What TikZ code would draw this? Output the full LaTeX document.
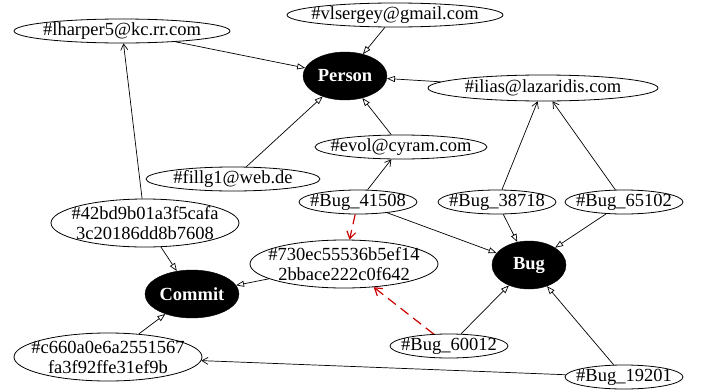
\documentclass[tikz,border=0pt]{standalone}
\usepackage{fontspec}
\setmainfont{Liberation Serif}
\usetikzlibrary{shapes.geometric,arrows.meta}
\definecolor{edgered}{RGB}{204,0,0}
\tikzset{
  txt/.style={inner sep=0pt,font=\fontsize{18.5}{20}\selectfont,align=center},
  btxt/.style={inner sep=0pt,text=white,font=\fontsize{18.5}{20}\selectfont\bfseries},
  ent/.style={ellipse,draw,line width=0.8pt,inner sep=0pt,label={[txt]center:#1}},
  cls/.style={ellipse,fill=black,draw=black,inner sep=0pt,label={[btxt]center:#1}},
  isa/.style={draw,line width=0.7pt,-{Triangle[open,length=8pt,width=6pt]}},
  rel/.style={draw,line width=0.7pt,-{Straight Barb[length=6pt,width=7pt]}},
  dep/.style={draw=edgered,line width=1.2pt,dash pattern=on 10pt off 6pt,-{Straight Barb[length=7pt,width=9pt]}}
}
\begin{document}
\begin{tikzpicture}[x=1pt,y=-1pt]
\useasboundingbox (0,0) rectangle (707,391);
\node[ent={\#vlsergey@gmail.com},minimum width=216pt,minimum height=24pt] (vl) at (395,15) {};
\node[ent={\#lharper5@kc.rr.com},minimum width=216pt,minimum height=24pt] (lh) at (122,31) {};
\node[cls={Person},minimum width=84pt,minimum height=48pt] (person) at (345,76) {};
\node[ent={\#ilias@lazaridis.com},minimum width=230pt,minimum height=26pt] (il) at (543,88) {};
\node[ent={\#evol@cyram.com},minimum width=172pt,minimum height=24pt] (ev) at (401,147) {};
\node[ent={\#fillg1@web.de},minimum width=174pt,minimum height=24pt] (fg) at (233,179) {};
\node[ent={\#Bug\_41508},minimum width=118pt,minimum height=24pt] (b41) at (358,202) {};
\node[ent={\#Bug\_38718},minimum width=118pt,minimum height=24pt] (b38) at (497,202) {};
\node[ent={\#Bug\_65102},minimum width=118pt,minimum height=24pt] (b65) at (624,202) {};
\node[ent={\#42bd9b01a3f5cafa\\3c20186dd8b7608},minimum width=188pt,minimum height=48pt] (c42) at (145,223) {};
\node[ent={\#730ec55536b5ef14\\2bbace222c0f642},minimum width=188pt,minimum height=48pt] (c73) at (344,264) {};
\node[cls={Commit},minimum width=94pt,minimum height=48pt] (commit) at (192,294) {};
\node[cls={Bug},minimum width=74pt,minimum height=48pt] (bug) at (529,265) {};
\node[ent={\#c660a0e6a2551567\\fa3f92ffe31ef9b},minimum width=188pt,minimum height=48pt] (c66) at (108,357) {};
\node[ent={\#Bug\_60012},minimum width=118pt,minimum height=24pt] (b60) at (449,346) {};
\node[ent={\#Bug\_19201},minimum width=118pt,minimum height=24pt] (b19) at (624,377) {};
% is-a edges
\path[isa] (lh) -- (person);
\path[isa] (vl) -- (person);
\path[isa] (il) -- (person);
\path[isa] (fg) -- (person);
\path[isa] (ev) -- (person);
\path[isa] (c42) -- (commit);
\path[isa] (c73) -- (commit);
\path[isa] (c66) -- (commit);
\path[isa] (b41) -- (bug);
\path[isa] (b38) -- (bug);
\path[isa] (b65) -- (bug);
\path[isa] (b60) -- (bug);
\path[isa] (b19) -- (bug);
% relations
\path[rel] (b41) -- (ev);
\path[rel] (b38) -- (il);
\path[rel] (b65) -- (il);
\path[rel] (c42) -- (lh);
\path[rel] (b19) -- (c66);
% dashed
\path[dep] (b41) -- (c73);
\path[dep] (b60) -- (c73);
\end{tikzpicture}
\end{document}
